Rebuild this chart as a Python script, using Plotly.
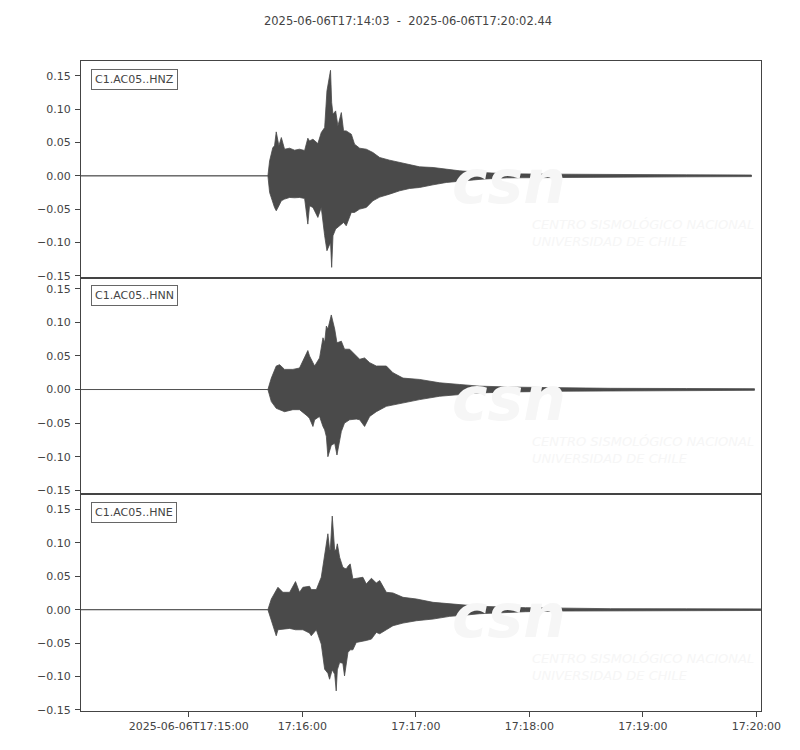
import pandas as pd
import plotly.graph_objects as go
from plotly.subplots import make_subplots

start = pd.Timestamp("2025-06-06 17:14:03")
end = pd.Timestamp("2025-06-06 17:20:02.44")
title = "2025-06-06T17:14:03  -  2025-06-06T17:20:02.44"

channels = ["C1.AC05..HNZ", "C1.AC05..HNN", "C1.AC05..HNE"]

# envelope of each trace (max / min), seconds after trace start
hnz_t = [0, 98.8, 99.7, 101.4, 102.3, 103.2, 104.6, 105.9, 107.6, 110.3, 112.9, 115.5, 118.2,
         119.9, 120.8, 122.6, 125.2, 127.0, 128.8, 130.0, 131.9, 132.5, 133.2, 134.6, 135.8,
         137.6, 138.8, 140.2, 142.9, 144.6, 147.3, 150.8, 154.3, 157.9, 163.1, 168.4, 173.7,
         179.0, 186.1, 193.1, 200.2, 212, 225, 250, 278, 320, 354.4]
hnz_max = [0, 0, 0.0225, 0.0425, 0.045, 0.066, 0.045, 0.0575, 0.04, 0.0415, 0.0385, 0.04, 0.038,
           0.0565, 0.0525, 0.055, 0.0485, 0.065, 0.0725, 0.1275, 0.1585, 0.11, 0.0925, 0.0975, 0.075,
           0.095, 0.0675, 0.0675, 0.0625, 0.0475, 0.0415, 0.04, 0.035, 0.0275, 0.0235, 0.02, 0.0175,
           0.0135, 0.0125, 0.01, 0.0075, 0.005, 0.003, 0.0025, 0.0018, 0.0015, 0.0012]
hnz_min = [0, 0, -0.025, -0.04, -0.0475, -0.0525, -0.045, -0.0375, -0.035, -0.0325, -0.033, -0.0325, -0.034,
           -0.0725, -0.045, -0.0475, -0.0625, -0.0475, -0.09, -0.1125, -0.1, -0.1375, -0.09, -0.08, -0.0775,
           -0.0725, -0.07, -0.075, -0.055, -0.055, -0.05, -0.0475, -0.0375, -0.032, -0.0275, -0.0225, -0.019,
           -0.0175, -0.0135, -0.01, -0.0075, -0.005, -0.003, -0.0025, -0.0018, -0.0015, -0.0012]

hnn_t = [0, 98.8, 100.6, 103.2, 105.0, 107.6, 112.0, 115.5, 119.9, 120.8, 122.6, 123.5, 126.1,
         127.9, 128.8, 129.7, 130.5, 132.3, 134.1, 135.3, 137.6, 139.3, 142.0, 145.5, 147.3,
         149.9, 152.6, 156.1, 161.4, 164.9, 170.2, 179.0, 189.6, 200.2, 210.7, 230, 253, 280, 320, 356]
hnn_max = [0, 0, 0.017, 0.035, 0.037, 0.03, 0.03, 0.032, 0.058, 0.05, 0.04, 0.035, 0.047,
           0.077, 0.07, 0.0945, 0.09, 0.111, 0.09, 0.0695, 0.072, 0.06, 0.06, 0.05, 0.045,
           0.047, 0.04, 0.035, 0.035, 0.025, 0.017, 0.015, 0.01, 0.0075, 0.005, 0.0035, 0.0025, 0.0018, 0.0015, 0.0012]
hnn_min = [0, 0, -0.018, -0.028, -0.03, -0.033, -0.03, -0.03, -0.04, -0.043, -0.055, -0.045, -0.04,
           -0.055, -0.06, -0.07, -0.1, -0.083, -0.08, -0.0975, -0.0625, -0.05, -0.045, -0.044, -0.045,
           -0.055, -0.04, -0.033, -0.025, -0.022, -0.02, -0.015, -0.01, -0.0075, -0.005, -0.0035, -0.0025, -0.0018, -0.0015, -0.0012]

hne_t = [0, 98.8, 100.6, 103.2, 104.1, 106.7, 110.3, 113.4, 115.5, 117.3, 120.8, 121.7, 124.4,
         127.0, 128.8, 130.5, 131.4, 131.8, 132.8, 134.1, 134.9, 135.5, 136.7, 138.4, 139.3,
         140.2, 141.1, 142.3, 143.7, 145.5, 149.0, 150.8, 153.5, 156.1, 157.9, 161.4, 164.9,
         170.2, 177.3, 186.1, 194.9, 203.7, 210.7, 235, 253, 280, 320, 359.4]
hne_max = [0, 0, 0.016, 0.03, 0.0335, 0.026, 0.026, 0.042, 0.026, 0.0335, 0.035, 0.03, 0.03,
           0.0485, 0.0835, 0.1135, 0.09, 0.09, 0.14, 0.0885, 0.09, 0.0985, 0.0785, 0.0635, 0.062,
           0.061, 0.065, 0.0685, 0.046, 0.047, 0.0485, 0.0385, 0.047, 0.04, 0.0435, 0.026, 0.025,
           0.0185, 0.016, 0.011, 0.009, 0.006, 0.005, 0.003, 0.002, 0.0015, 0.0013, 0.0012]
hne_min = [0, 0, -0.0165, -0.039, -0.03, -0.029, -0.028, -0.03, -0.03, -0.03, -0.035, -0.039, -0.03,
           -0.0515, -0.089, -0.095, -0.104, -0.1, -0.09, -0.0965, -0.1215, -0.09, -0.079, -0.08, -0.099,
           -0.08, -0.064, -0.06, -0.06, -0.049, -0.047, -0.046, -0.044, -0.034, -0.036, -0.03, -0.024,
           -0.02, -0.0165, -0.014, -0.01, -0.008, -0.006, -0.003, -0.002, -0.0015, -0.0013, -0.0012]

y_ranges = [[-0.153, 0.1725], [-0.156, 0.1665], [-0.1515, 0.1725]]
y_ticks = [-0.15, -0.10, -0.05, 0.0, 0.05, 0.10, 0.15]

x_tickvals = ["2025-06-06 17:15:00", "2025-06-06 17:16:00", "2025-06-06 17:17:00",
              "2025-06-06 17:18:00", "2025-06-06 17:19:00", "2025-06-06 17:20:00"]
x_ticktext = ["2025-06-06T17:15:00", "17:16:00", "17:17:00", "17:18:00", "17:19:00", "17:20:00"]

traces = [(hnz_t, hnz_max, hnz_min), (hnn_t, hnn_max, hnn_min), (hne_t, hne_max, hne_min)]

col = "#4a4a4a"
axcol = "#444444"
font = "DejaVu Sans"
wm = "#f6f6f6"

fig = make_subplots(rows=3, cols=1, shared_xaxes=True, vertical_spacing=0)

for i, (t, hi, lo) in enumerate(traces):
    row = i + 1
    times = start + pd.to_timedelta(t, unit="s")
    xs = list(times) + list(times[::-1])
    ys = list(hi) + list(lo[::-1])

    # faint watermark (drawn first, under the trace)
    fig.add_annotation(text="<b><i>csn</i></b>", x=0.63, y=0.44, xref="x domain", yref="y domain",
                       xanchor="center", yanchor="middle", showarrow=False,
                       font=dict(family=font, size=60, color=wm), row=row, col=1)
    fig.add_annotation(text="<i>CENTRO SISMOLÓGICO NACIONAL<br>UNIVERSIDAD DE CHILE</i>",
                       x=0.66, y=0.205, xref="x domain", yref="y domain", xanchor="left",
                       yanchor="middle", align="left", showarrow=False,
                       font=dict(family=font, size=13, color=wm), row=row, col=1)

    fig.add_trace(go.Scatter(x=xs, y=ys, mode="lines", fill="toself", fillcolor=col,
                             line=dict(color=col, width=0.8), hoverinfo="skip",
                             showlegend=False), row=row, col=1)

    fig.add_annotation(text=channels[i], x=0.015, y=0.965, xref="x domain", yref="y domain",
                       xanchor="left", yanchor="top", showarrow=False,
                       font=dict(family=font, size=11, color=axcol),
                       bgcolor="white", bordercolor="#666666", borderwidth=1, borderpad=3,
                       row=row, col=1)

    fig.update_yaxes(range=y_ranges[i], tickvals=y_ticks, tickformat=".2f",
                     showgrid=False, zeroline=False, showline=True, mirror=True,
                     linecolor=axcol, linewidth=1, ticks="outside", ticklen=5,
                     tickcolor=axcol, ticklabelstandoff=2,
                     tickfont=dict(family=font, size=11, color=axcol),
                     row=row, col=1)
    fig.update_xaxes(range=[start, end], showgrid=False, zeroline=False, showline=True,
                     mirror=True, linecolor=axcol, linewidth=1,
                     ticks="outside" if row == 3 else "", ticklen=5, tickcolor=axcol,
                     tickvals=x_tickvals, ticktext=x_ticktext, showticklabels=(row == 3),
                     tickfont=dict(family=font, size=11, color=axcol), row=row, col=1)

# the page body adds an 8px offset, so margins are shifted to compensate
fig.update_layout(
    width=800, height=750,
    margin=dict(l=73, r=47, t=53, b=47),
    plot_bgcolor="white", paper_bgcolor="white",
    title=dict(text=title, x=0.5, xanchor="center", y=0.983, yanchor="middle",
               font=dict(family=font, size=11.5, color=axcol)),
)

fig.write_html("out.html")
